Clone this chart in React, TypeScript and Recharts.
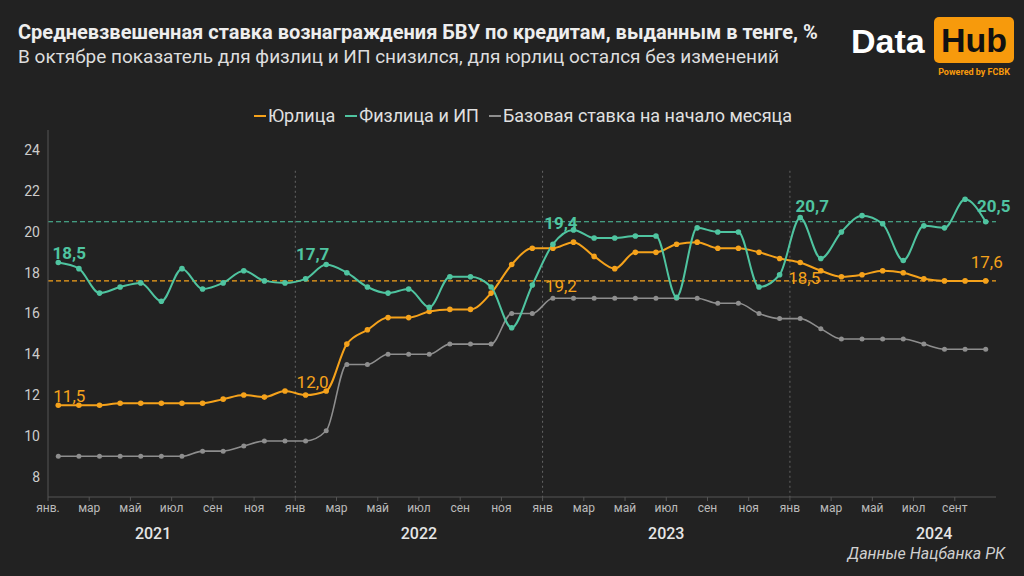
import { LineChart, Line, XAxis, YAxis, ReferenceLine, LabelList } from 'recharts';

// Jan 2021 .. Oct 2024, monthly
const months = [
  'янв 21', 'фев 21', 'мар 21', 'апр 21', 'май 21', 'июн 21', 'июл 21', 'авг 21', 'сен 21', 'окт 21', 'ноя 21', 'дек 21',
  'янв 22', 'фев 22', 'мар 22', 'апр 22', 'май 22', 'июн 22', 'июл 22', 'авг 22', 'сен 22', 'окт 22', 'ноя 22', 'дек 22',
  'янв 23', 'фев 23', 'мар 23', 'апр 23', 'май 23', 'июн 23', 'июл 23', 'авг 23', 'сен 23', 'окт 23', 'ноя 23', 'дек 23',
  'янв 24', 'фев 24', 'мар 24', 'апр 24', 'май 24', 'июн 24', 'июл 24', 'авг 24', 'сен 24', 'окт 24',
];

const corporate = [
  11.5, 11.5, 11.5, 11.6, 11.6, 11.6, 11.6, 11.6, 11.8, 12.0, 11.9, 12.2,
  12.0, 12.2, 14.5, 15.2, 15.8, 15.8, 16.1, 16.2, 16.2, 17.0, 18.4, 19.2,
  19.2, 19.5, 18.8, 18.2, 19.0, 19.0, 19.4, 19.5, 19.2, 19.2, 19.0, 18.7,
  18.5, 18.1, 17.8, 17.9, 18.1, 18.0, 17.7, 17.6, 17.6, 17.6,
];

const retail = [
  18.5, 18.2, 17.0, 17.3, 17.5, 16.6, 18.2, 17.2, 17.5, 18.1, 17.6, 17.5,
  17.7, 18.4, 18.0, 17.3, 17.0, 17.2, 16.3, 17.8, 17.8, 17.3, 15.3, 17.4,
  19.4, 20.1, 19.7, 19.7, 19.8, 19.8, 16.8, 20.2, 20.0, 20.0, 17.3, 17.9,
  20.7, 18.7, 20.0, 20.8, 20.4, 18.6, 20.3, 20.2, 21.6, 20.5,
];

const baseRate = [
  9.0, 9.0, 9.0, 9.0, 9.0, 9.0, 9.0, 9.25, 9.25, 9.5, 9.75, 9.75,
  9.75, 10.25, 13.5, 13.5, 14.0, 14.0, 14.0, 14.5, 14.5, 14.5, 16.0, 16.0,
  16.75, 16.75, 16.75, 16.75, 16.75, 16.75, 16.75, 16.75, 16.5, 16.5, 16.0, 15.75,
  15.75, 15.25, 14.75, 14.75, 14.75, 14.75, 14.5, 14.25, 14.25, 14.25,
];

const monthTickLabels = [
  'янв.', 'мар', 'май', 'июл', 'сен', 'ноя',
  'янв', 'мар', 'май', 'июл', 'сен', 'ноя',
  'янв', 'мар', 'май', 'июл', 'сен', 'ноя',
  'янв', 'мар', 'май', 'июл', 'сент',
];
const yearLabels = ['2021', '2022', '2023', '2024'];
const yearPositions = [4.6, 17.5, 29.5, 42.5];
const yTicks = [8, 10, 12, 14, 16, 18, 20, 22, 24];

const retailAvg = 20.5;
const corporateAvg = 17.6;

const ORANGE = '#f5a21b';
const TEAL = '#4fc4a0';
const GRAY = '#8e8e8e';
const BG = '#222222';

const data = months.map((m, i) => ({
  idx: i,
  month: m,
  corporate: corporate[i],
  retail: retail[i],
  base: baseRate[i],
}));

const monthTicks = monthTickLabels.map((_, i) => i * 2 - 0.5);
const yearBounds = [11.5, 23.5, 35.5];

const fmt = (v: number) => v.toFixed(1).replace('.', ',');

type LabelSpec = { dx: number; dy: number; bold?: boolean };

const retailLabels: Record<number, LabelSpec> = {
  0: { dx: 11, dy: -10, bold: true },
  12: { dx: 7, dy: -25, bold: true },
  24: { dx: 8, dy: -21, bold: true },
  36: { dx: 12, dy: -12, bold: true },
  45: { dx: 8, dy: -16, bold: true },
};

const corporateLabels: Record<number, LabelSpec> = {
  0: { dx: 11, dy: -9 },
  12: { dx: 7, dy: -13 },
  24: { dx: 8, dy: 38 },
  36: { dx: 4, dy: 15 },
  45: { dx: 1, dy: -19 },
};

function makeLabel(specs: Record<number, LabelSpec>, color: string) {
  return (props: any) => {
    const { x, y, value, index } = props;
    const s = specs[index];
    if (!s) return null;
    return (
      <text
        x={x + s.dx}
        y={y + s.dy}
        fill={color}
        fontSize={17}
        fontWeight={s.bold ? 700 : 400}
        textAnchor="middle"
        dominantBaseline="central"
        fontFamily="Roboto, sans-serif"
      >
        {fmt(value)}
      </text>
    );
  };
}

const YearTick = (props: any) => {
  const { x, y, index } = props;
  return (
    <text x={x} y={y + 12} fill="#e6e6e6" fontSize={16} fontWeight={500} textAnchor="middle" fontFamily="Roboto, sans-serif">
      {yearLabels[index]}
    </text>
  );
};

const legendItems = [
  { name: 'Юрлица', color: ORANGE },
  { name: 'Физлица и ИП', color: TEAL },
  { name: 'Базовая ставка на начало месяца', color: GRAY },
];

function App() {
  return (
    <div
      style={{
        position: 'fixed',
        left: 0,
        top: 0,
        width: 1024,
        height: 576,
        background: BG,
        fontFamily: 'Roboto, sans-serif',
        overflow: 'hidden',
      }}
    >
      <div style={{ position: 'absolute', left: 18, top: 20, fontSize: 20, fontWeight: 700, color: '#eeeeee', whiteSpace: 'nowrap' }}>
        Средневзвешенная ставка вознаграждения БВУ по кредитам, выданным в тенге, %
      </div>
      <div style={{ position: 'absolute', left: 18, top: 45, fontSize: 19, color: '#dddddd', whiteSpace: 'nowrap' }}>
        В октябре показатель для физлиц и ИП снизился, для юрлиц остался без изменений
      </div>

      {/* logo */}
      <div
        style={{
          position: 'absolute',
          left: 851,
          top: 21,
          fontSize: 34,
          fontWeight: 700,
          color: '#ffffff',
          fontFamily: '"Liberation Sans", Arial, sans-serif',
          lineHeight: '40px',
        }}
      >
        Data
      </div>
      <div
        style={{
          position: 'absolute',
          left: 934,
          top: 17,
          width: 80,
          height: 46,
          background: '#f79a0c',
          borderRadius: 5,
          fontSize: 34,
          fontWeight: 700,
          color: '#111111',
          fontFamily: '"Liberation Sans", Arial, sans-serif',
          lineHeight: '46px',
          textAlign: 'center',
        }}
      >
        Hub
      </div>
      <div
        style={{
          position: 'absolute',
          left: 934,
          top: 67,
          width: 80,
          fontSize: 9,
          fontWeight: 700,
          color: '#f79a0c',
          textAlign: 'center',
        }}
      >
        Powered by FCBK
      </div>

      {/* legend */}
      <div
        style={{
          position: 'absolute',
          left: 0,
          top: 105,
          width: 1024,
          display: 'flex',
          justifyContent: 'center',
          paddingLeft: 22,
          boxSizing: 'border-box',
          fontSize: 18,
          color: '#e0e0e0',
          gap: 10,
        }}
      >
        {legendItems.map((it) => (
          <div key={it.name} style={{ display: 'flex', alignItems: 'center' }}>
            <span style={{ display: 'inline-block', width: 12, height: 2, background: it.color, marginRight: 2 }} />
            <span>{it.name}</span>
          </div>
        ))}
      </div>

      <div style={{ position: 'absolute', left: 0, top: 0 }}>
        <LineChart width={1024} height={576} data={data} margin={{ top: 130, right: 28, bottom: 27, left: 0 }}>
          <XAxis
            xAxisId="m"
            dataKey="idx"
            type="number"
            domain={[-0.5, 45.5]}
            ticks={monthTicks}
            interval={0}
            tickFormatter={(v: number) => monthTickLabels[Math.round((v + 0.5) / 2)]}
            tick={{ fill: '#bbbbbb', fontSize: 12 }}
            tickSize={4}
            tickLine={{ stroke: '#555555' }}
            axisLine={{ stroke: '#555555' }}
            height={22}
            allowDataOverflow
          />
          <XAxis
            xAxisId="y"
            dataKey="idx"
            type="number"
            domain={[-0.5, 45.5]}
            ticks={yearPositions}
            interval={0}
            tick={<YearTick />}
            tickLine={false}
            axisLine={false}
            height={30}
            allowDataOverflow
          />
          <YAxis
            domain={[7, 25]}
            ticks={yTicks}
            interval={0}
            width={48}
            tick={{ fill: '#cccccc', fontSize: 14 }}
            tickLine={false}
            axisLine={{ stroke: '#555555' }}
            allowDataOverflow
          />
          {yearBounds.map((b) => (
            <ReferenceLine
              key={b}
              xAxisId="m"
              segment={[
                { x: b, y: 23 },
                { x: b, y: 7 },
              ]}
              stroke="#666666"
              strokeDasharray="2 3"
            />
          ))}
          <ReferenceLine xAxisId="m" y={retailAvg} stroke={TEAL} strokeDasharray="5 3" strokeWidth={1.2} />
          <ReferenceLine xAxisId="m" y={corporateAvg} stroke={ORANGE} strokeDasharray="5 3" strokeWidth={1.2} />
          <Line
            xAxisId="m"
            type="monotone"
            dataKey="base"
            stroke={GRAY}
            strokeWidth={1.6}
            dot={{ r: 2.5, fill: GRAY, stroke: 'none' }}
            isAnimationActive={false}
          />
          <Line
            xAxisId="m"
            type="monotone"
            dataKey="corporate"
            stroke={ORANGE}
            strokeWidth={2}
            dot={{ r: 2.8, fill: ORANGE, stroke: 'none' }}
            isAnimationActive={false}
          >
            <LabelList dataKey="corporate" content={makeLabel(corporateLabels, ORANGE)} />
          </Line>
          <Line
            xAxisId="m"
            type="monotone"
            dataKey="retail"
            stroke={TEAL}
            strokeWidth={2}
            dot={{ r: 2.8, fill: TEAL, stroke: 'none' }}
            isAnimationActive={false}
          >
            <LabelList dataKey="retail" content={makeLabel(retailLabels, TEAL)} />
          </Line>
        </LineChart>
      </div>

      <div
        style={{
          position: 'absolute',
          right: 19,
          top: 544,
          fontSize: 16,
          fontStyle: 'italic',
          color: '#d0d0d0',
        }}
      >
        Данные Нацбанка РК
      </div>
    </div>
  );
}

export default App;
